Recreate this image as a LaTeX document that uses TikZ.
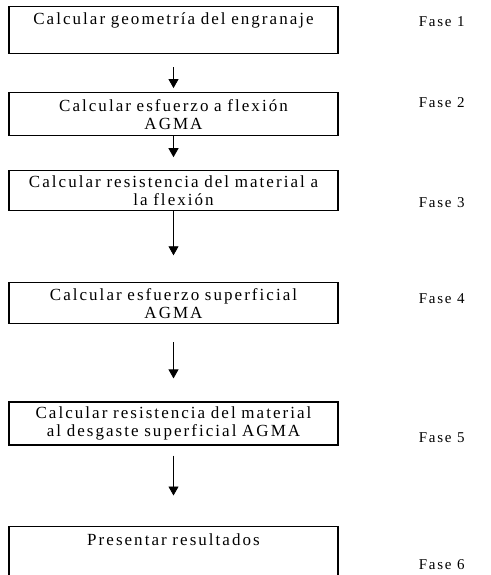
\documentclass[tikz,border=0pt]{standalone}
\usepackage{fontspec}
\setmainfont{Liberation Serif}[LetterSpace=12]
\usetikzlibrary{arrows.meta,positioning}

\begin{document}
\begin{tikzpicture}[
  x=1pt,y=1pt,
  box/.style={draw,line width=1.1pt,align=center,text width=321pt,inner xsep=4pt,
              inner ysep=0pt,font=\fontsize{17}{18}\selectfont},
  fase/.style={font=\fontsize{15}{16}\selectfont,inner sep=0pt},
  flow/.style={->,line width=0.8pt},
  >={Triangle[length=9pt,width=10pt]}]
\useasboundingbox (0,0) rectangle (490,-575);
\clip (0,0) rectangle (490,-575);
\node[box,anchor=north,inner ysep=6pt,text height=12pt,text depth=23pt] (geo) at (173.5,-6) {Calcular geometría del engranaje};
\node[box,below=38pt of geo,minimum height=43pt] (flex) {Calcular esfuerzo a flexión\\AGMA};
\node[box,below=34pt of flex,minimum height=40pt] (resflex) {Calcular resistencia del material a\\la flexión};
\node[box,below=71pt of resflex,minimum height=41pt] (sup) {Calcular esfuerzo superficial\\AGMA};
\node[box,below=77pt of sup,minimum height=43pt] (dsg) {Calcular resistencia del material\\al desgaste superficial AGMA};
\node[box,below=80pt of dsg,inner ysep=7pt,text height=12pt,text depth=60pt] (res) {Presentar resultados};
% fases
\node[fase,right=80pt of geo,yshift=8pt]     (f1) {Fase 1};
\node[fase,right=80pt of flex,yshift=12pt]   (f2) {Fase 2};
\node[fase,right=80pt of resflex,yshift=-12pt] (f3) {Fase 3};
\node[fase,right=80pt of sup,yshift=5pt]     (f4) {Fase 4};
\node[fase,right=80pt of dsg,yshift=-14pt]   (f5) {Fase 5};
\node[fase,right=80pt of res,yshift=4pt]     (f6) {Fase 6};
% flechas
\draw[flow,shorten <=13pt,shorten >=4pt] (geo) -- (flex);
\draw[flow,shorten >=13pt] (flex) -- (resflex);
\draw[flow,shorten >=27pt] (resflex) -- (sup);
\draw[flow,shorten <=18pt,shorten >=23pt] (sup) -- (dsg);
\draw[flow,shorten <=10pt,shorten >=30pt] (dsg) -- (res);
\end{tikzpicture}
\end{document}
